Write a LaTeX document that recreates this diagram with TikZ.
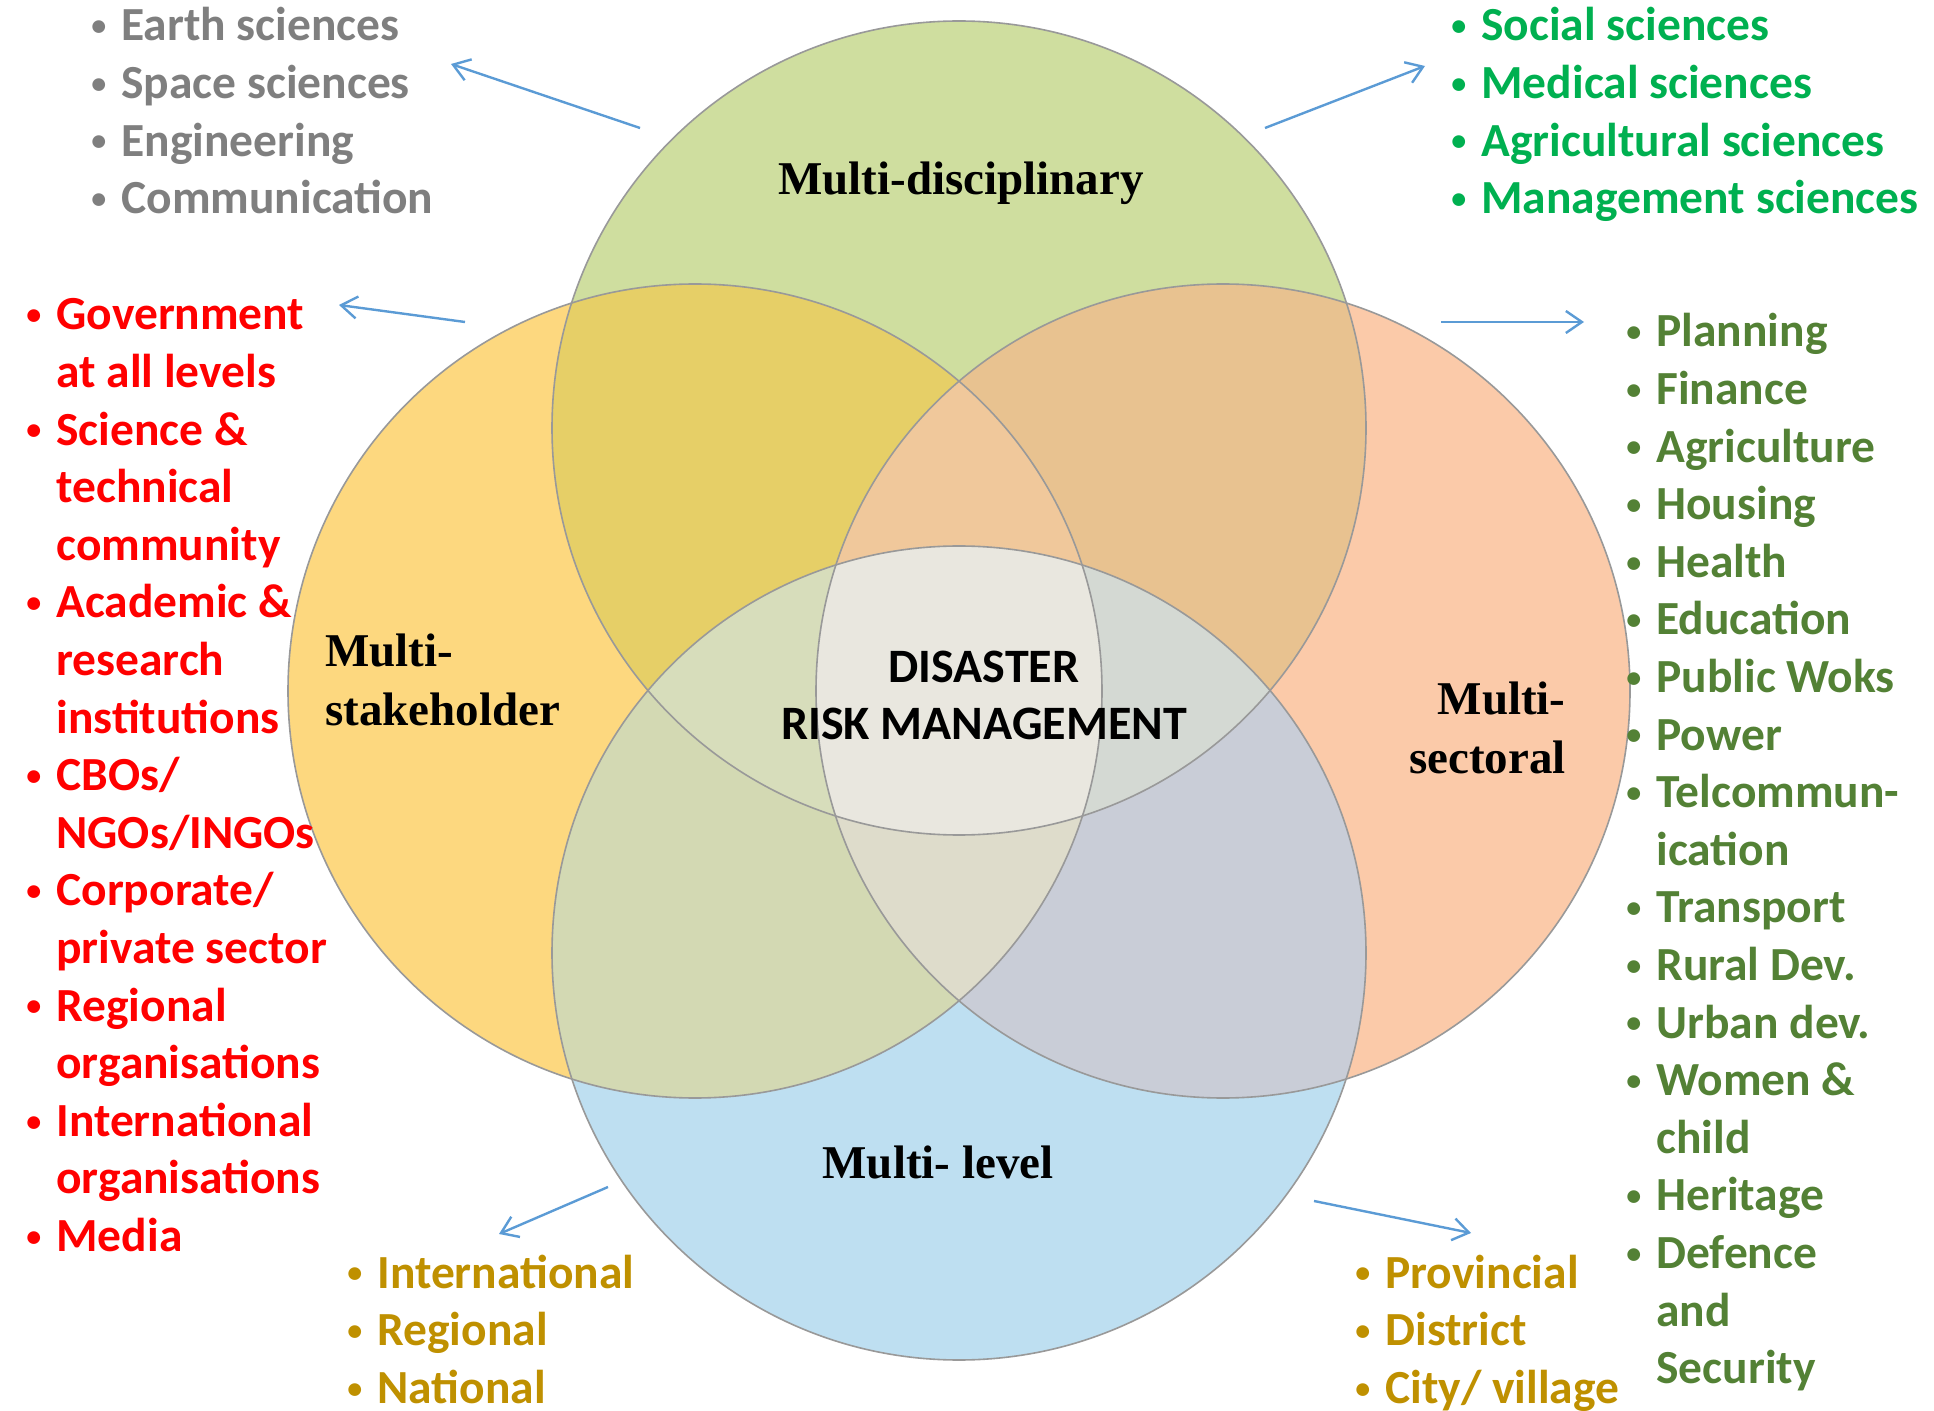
\documentclass[tikz,border=0pt]{standalone}
\usepackage{fontspec}
\setmainfont{Carlito}
\newfontfamily\venntitle{Liberation Serif}
\usetikzlibrary{arrows.meta}

% text colours
\definecolor{cgray}{HTML}{7F7F7F}
\definecolor{cgreen}{HTML}{00B050}
\definecolor{cred}{HTML}{FF0000}
\definecolor{cdkgreen}{HTML}{538135}
\definecolor{cgold}{HTML}{BF9000}
\definecolor{cblue}{HTML}{5B9BD5}
% circle and overlap fills
\definecolor{fT}{HTML}{CFDE9F}
\definecolor{fL}{HTML}{FDD87F}
\definecolor{fR}{HTML}{FBCAA9}
\definecolor{fB}{HTML}{BEDFF1}
\definecolor{fTL}{HTML}{E6CF67}
\definecolor{fTR}{HTML}{E8C290}
\definecolor{fLB}{HTML}{D3D9B3}
\definecolor{fRB}{HTML}{C9CDD7}
\definecolor{fTLR}{HTML}{F0C89B}
\definecolor{fTLB}{HTML}{D7DDBB}
\definecolor{fTRB}{HTML}{D4D9D3}
\definecolor{fLRB}{HTML}{DEDCCB}
\definecolor{fall}{HTML}{E9E7DF}

\tikzset{
    lst/.style={anchor=base west, inner sep=0, font=\fontsize{23.75}{28.8}\selectfont\bfseries},
    ttl/.style={inner sep=0, font=\fontsize{23.5}{29.5}\selectfont\venntitle\bfseries},
    e/.style={draw=cblue, line width=1.2pt, -{Straight Barb[length=8pt,width=11pt]}},
    rim/.style={draw=black!40, line width=0.8pt}
}

\newcommand{\cT}{(959,428) circle[radius=407]}
\newcommand{\cL}{(695,691) circle[radius=407]}
\newcommand{\cR}{(1223,691) circle[radius=407]}
\newcommand{\cB}{(959,953) circle[radius=407]}
\newcommand{\bdot}{\raisebox{2.6pt}{\fontsize{15}{15}\selectfont\textbullet}}
\newcommand{\itm}[1]{\hspace{2pt}\bdot & #1\\}
\newcommand{\cnt}[1]{& #1\\}

\begin{document}
\begin{tikzpicture}[x=0.5pt, y=-0.5pt]
    \useasboundingbox (0,0) rectangle (1934,1411);

    % circles
    \fill[fT] \cT;
    \fill[fL] \cL;
    \fill[fR] \cR;
    \fill[fB] \cB;
    \begin{scope}
        \clip \cT;
        \fill[fTL] \cL;
        \fill[fTR] \cR;
    \end{scope}
    \begin{scope}
        \clip \cB;
        \fill[fLB] \cL;
        \fill[fRB] \cR;
    \end{scope}
    \begin{scope}
        \clip \cL; \clip \cR;
        \fill[fTLR] \cT;
        \fill[fLRB] \cB;
    \end{scope}
    \begin{scope}
        \clip \cT; \clip \cB;
        \fill[fTLB] \cL;
        \fill[fTRB] \cR;
    \end{scope}
    \begin{scope}
        \clip \cT; \clip \cB; \clip \cL;
        \fill[fall] \cR;
    \end{scope}
    \draw[rim] \cT;
    \draw[rim] \cL;
    \draw[rim] \cR;
    \draw[rim] \cB;

    % circle titles
    \node[ttl] (mdisc) at (961,183) {Multi-disciplinary};
    \node[ttl, anchor=west, align=left] (mstake) at (325,680) {Multi-\\stakeholder};
    \node[ttl, anchor=east, align=right] (msect) at (1566,728) {Multi-\\sectoral};
    \node[ttl] (mlevel) at (938,1162) {Multi- level};
    \node[inner sep=0, align=center, font=\fontsize{24}{28.5}\selectfont\bfseries] (drm) at (984,695) {DISASTER\\RISK MANAGEMENT};

    % lists
    \node[lst, text=cgray] (lsci) at (87,41) {\begin{tabular}[t]{@{}p{17pt}@{}l@{}}
        \itm{Earth sciences}
        \itm{Space sciences}
        \itm{Engineering}
        \itm{Communication}
    \end{tabular}};
    \node[lst, text=cgreen] (lsoc) at (1447,41) {\begin{tabular}[t]{@{}p{17pt}@{}l@{}}
        \itm{Social sciences}
        \itm{Medical sciences}
        \itm{Agricultural sciences}
        \itm{Management sciences}
    \end{tabular}};
    \node[lst, text=cred] (lstake) at (22,330) {\begin{tabular}[t]{@{}p{17pt}@{}l@{}}
        \itm{Government}
        \cnt{at all levels}
        \itm{Science \&}
        \cnt{technical}
        \cnt{community}
        \itm{Academic \&}
        \cnt{research}
        \cnt{institutions}
        \itm{CBOs/}
        \cnt{NGOs/INGOs}
        \itm{Corporate/}
        \cnt{private sector}
        \itm{Regional}
        \cnt{organisations}
        \itm{International}
        \cnt{organisations}
        \itm{Media}
    \end{tabular}};
    \node[lst, text=cdkgreen] (lsect) at (1622,347) {\begin{tabular}[t]{@{}p{17pt}@{}l@{}}
        \itm{Planning}
        \itm{Finance}
        \itm{Agriculture}
        \itm{Housing}
        \itm{Health}
        \itm{Education}
        \itm{Public Woks}
        \itm{Power}
        \itm{Telcommun-}
        \cnt{ication}
        \itm{Transport}
        \itm{Rural Dev.}
        \itm{Urban dev.}
        \itm{Women \&}
        \cnt{child}
        \itm{Heritage}
        \itm{Defence}
        \cnt{and}
        \cnt{Security}
    \end{tabular}};
    \node[lst, text=cgold] (llvl1) at (343,1288) {\begin{tabular}[t]{@{}p{17pt}@{}l@{}}
        \itm{International}
        \itm{Regional}
        \itm{National}
    \end{tabular}};
    \node[lst, text=cgold] (llvl2) at (1351,1288) {\begin{tabular}[t]{@{}p{17pt}@{}l@{}}
        \itm{Provincial}
        \itm{District}
        \itm{City/ village}
    \end{tabular}};

    % arrows
    \coordinate (a1s) at (640,128);  \coordinate (a1e) at (451,64);
    \coordinate (a2s) at (1265,128); \coordinate (a2e) at (1425,66);
    \coordinate (a3s) at (465,322);  \coordinate (a3e) at (339,305);
    \coordinate (a4s) at (1441,322); \coordinate (a4e) at (1584,322);
    \coordinate (a5s) at (608,1187); \coordinate (a5e) at (499,1234);
    \coordinate (a6s) at (1314,1201); \coordinate (a6e) at (1471,1233);
    \draw[e] (a1s) -- (a1e);
    \draw[e] (a2s) -- (a2e);
    \draw[e] (a3s) -- (a3e);
    \draw[e] (a4s) -- (a4e);
    \draw[e] (a5s) -- (a5e);
    \draw[e] (a6s) -- (a6e);
\end{tikzpicture}
\end{document}
